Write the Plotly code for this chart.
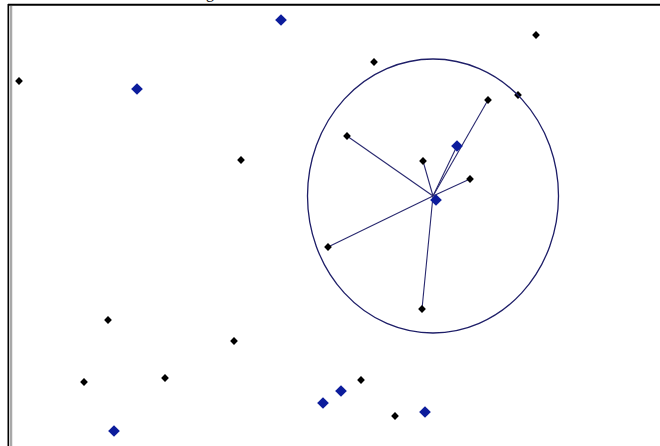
import plotly.graph_objects as go

# Data (in the chart's own coordinate space)
black_x = [19, 241, 374, 536, 518, 488, 347, 423, 470, 328, 422, 108, 234, 84, 165, 361, 395]
black_y = [81, 160, 62, 35, 95, 100, 136, 161, 179, 247, 309, 320, 341, 382, 378, 380, 416]

blue_x = [281, 137, 457, 436, 341, 323, 425, 114]
blue_y = [20, 89, 146, 200, 391, 403, 412, 431]

# cluster: hub + members connected by spokes
hub_x = 433
hub_y = 196
spoke_x = [347, 423, 470, 488, 457, 328, 422]
spoke_y = [136, 161, 179, 100, 146, 247, 309]

# cluster boundary (ellipse radii)
ring_rx = 125.5
ring_ry = 137

W, H = 660, 446

lx, ly = [], []
for sx, sy in zip(spoke_x, spoke_y):
    lx += [hub_x, sx, None]
    ly += [hub_y, sy, None]

fig = go.Figure()
fig.add_trace(go.Scatter(x=lx, y=ly, mode="lines",
                         line=dict(color="#2a2a70", width=1.1),
                         hoverinfo="skip", showlegend=False))
fig.add_trace(go.Scatter(x=black_x, y=black_y, mode="markers",
                         marker=dict(symbol="diamond", size=6, color="#000000"),
                         showlegend=False))
fig.add_trace(go.Scatter(x=blue_x, y=blue_y, mode="markers",
                         marker=dict(symbol="diamond", size=9, color="#0c1c9c"),
                         showlegend=False))

fig.add_shape(type="circle", xref="x", yref="y",
              x0=hub_x - ring_rx, x1=hub_x + ring_rx,
              y0=hub_y - ring_ry, y1=hub_y + ring_ry,
              line=dict(color="#1e1e68", width=1.3))

# window frame
fig.add_shape(type="line", xref="x", yref="y", x0=8, x1=W, y0=4.8, y1=4.8,
              line=dict(color="#000000", width=2))
fig.add_shape(type="line", xref="x", yref="y", x0=8.3, x1=8.3, y0=4, y1=H,
              line=dict(color="#000000", width=1.6))
fig.add_shape(type="line", xref="x", yref="y", x0=11, x1=11, y0=6, y1=H,
              line=dict(color="#a8a8a8", width=2.5))

fig.add_annotation(x=210, y=4, xref="x", yref="y", text="g", showarrow=False,
                   yanchor="bottom", font=dict(family="Liberation Serif", size=16, color="#000"))

fig.update_layout(
    width=W, height=H,
    margin=dict(l=0, r=0, t=0, b=0),
    paper_bgcolor="white", plot_bgcolor="white",
    hovermode=False,
    xaxis=dict(range=[0, W], visible=False, showgrid=False, zeroline=False),
    yaxis=dict(range=[H, 0], visible=False, showgrid=False, zeroline=False),
)
fig.write_html("out.html", config={"displayModeBar": False},
               post_script="document.body.style.margin='0';document.body.style.overflow='hidden';")
